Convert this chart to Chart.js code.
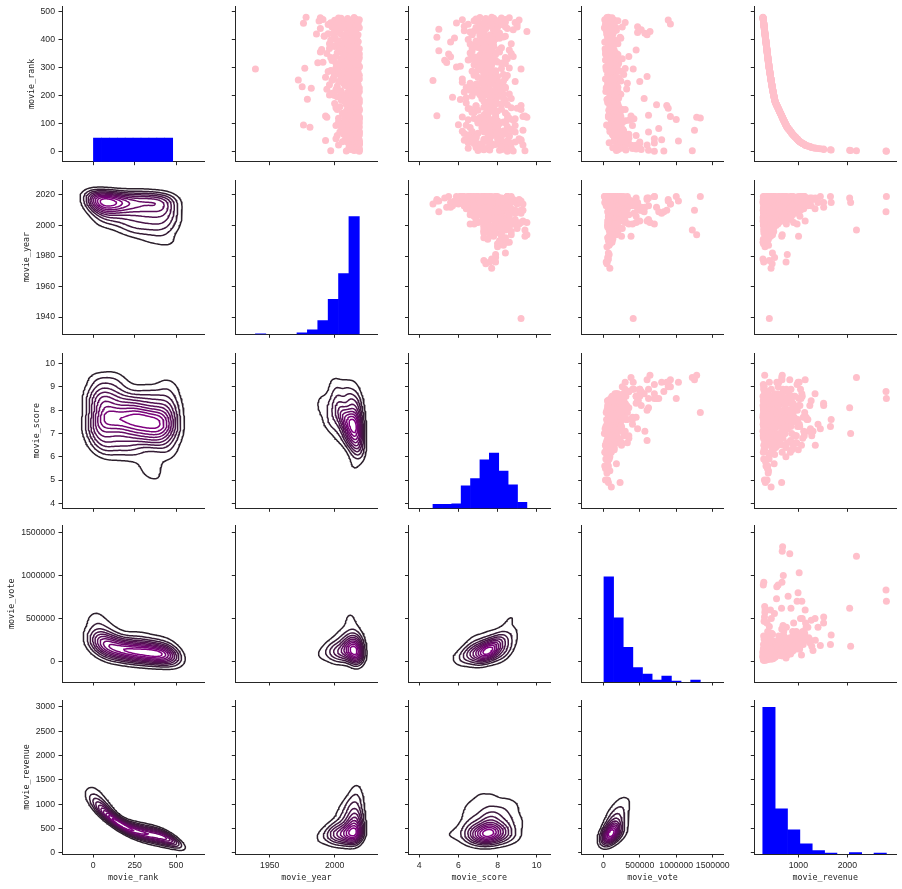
<!DOCTYPE html>
<html>
<head>
<meta charset="utf-8">
<script src="https://cdn.jsdelivr.net/npm/chart.js@4.4.0/dist/chart.umd.min.js"></script>
<style>
  html, body { margin: 0; padding: 0; background: #fff; }
  #grid { position: relative; width: 902px; height: 889px; overflow: hidden; }
  #grid canvas { position: absolute; }
</style>
</head>
<body>
<div id="grid"></div>
<script>
// one entry per movie, same index in every array
// (first block: the movies that stand out, second block: the dense core)
const movieRank = [
  1,2,3,4,5,6,7,8,9,10,
  11,12,13,14,15,16,17,18,19,20,
  21,22,23,24,25,26,27,28,29,30,
  31,32,33,34,35,36,38,40,42,44,
  46,48,51,53,55,58,60,62,65,67,
  70,72,74,76,78,80,83,85,87,89,
  91,93,95,96,98,100,102,104,106,108,
  110,112,115,117,118,120,122,123,125,127,
  128,130,132,135,137,140,142,145,148,150,
  152,155,158,160,163,165,167,170,172,175,
  178,181,184,187,189,190,192,194,196,199,
  201,203,205,208,210,212,215,217,219,222,
  224,226,229,232,234,236,239,241,244,246,
  248,250,252,254,256,258,261,263,265,268,
  270,273,275,277,280,282,285,287,290,292,
  295,297,298,300,303,305,308,310,313,315,
  317,318,320,323,325,327,330,332,335,337,
  340,342,345,347,350,352,355,357,360,362,
  363,365,367,370,372,375,377,380,382,385,
  387,390,391,393,395,398,400,403,405,408,
  410,412,415,417,419,420,423,425,427,429,
  431,433,435,437,440,442,444,445,446,448,
  450,452,454,456,458,459,461,463,465,467,
  469,470,472,474,476,478,480,
  37,39,41,43,45,47,50,52,54,57,
  59,61,64,66,69,71,73,77,79,82,
  84,86,88,90,94,97,99,103,105,109,
  111,114,116,119,121,124,126,131,134,138,
  141,144,147,151,154,157,161,164,168,171,
  174,177,180,183,186,191,195,198,202,206,
  209,213,216,220,223,227,230,233,237,240,
  243,247,251,255,259,262,266,269,272,276,
  279,283,286,289,293,296,299,302,306,309,
  312,316,319,322,326,329,333,336,339,343,
  346,349,353,356,359,364,368,371,374,378,
  381,384,388,392,396,399,402,406,409,413,
  416,418,421,424,428,432,436,439,443,447,
  449,451,455,457,460,462,466,468,471,475,
  477,479,200,228,260,288,311,338,366,397
];
const movieYear = [
  2019,2009,1997,2015,2018,2015,2019,2012,2015,2019,
  2015,2018,2011,2017,2018,2013,2017,2018,2017,2013,
  2015,2016,2018,2003,2019,2019,2011,2012,2014,2012,
  2019,2019,2019,2010,2006,2016,2016,1993,2008,2011,
  2001,2013,2010,2012,2017,2002,2018,2007,2016,2019,
  2004,2019,2005,2010,2014,2018,2009,2013,1981,2017,
  2016,2001,1976,2014,2012,2015,2019,2007,2003,2018,
  2013,2017,2019,2008,2015,2019,2016,1994,2014,1993,
  2016,2013,2011,2018,2006,2012,2017,2009,2015,2002,
  2019,2016,2014,2004,2018,2010,2012,2017,2000,2019,
  2008,2011,2005,1979,2016,2009,2015,2013,2002,2018,
  2006,2012,2017,1998,2014,2010,2019,2004,2016,2001,
  2013,1982,2011,1975,2015,2008,1996,2018,2007,2012,
  2017,2003,2014,2014,1972,2010,2016,1999,2009,2017,
  2005,2019,2012,2000,2015,2006,2018,2011,1997,2013,
  1939,2008,1977,2016,2002,2019,2010,2014,2004,2017,
  1987,2012,2009,2018,1998,2015,2011,2005,2019,2013,
  2001,2016,2007,2014,1994,2018,2010,2003,2016,2012,
  2006,1990,2019,2008,2015,2000,2011,2017,2004,1996,
  2013,2009,2015,2018,2002,2012,2016,1999,2010,2017,
  2007,1992,2014,2018,2005,1986,2012,2015,2001,2002,
  2011,2016,2010,2009,1989,2019,2004,1998,2011,2013,
  2017,2006,1995,2014,1976,2015,2003,2018,2008,2012,
  2000,2017,1991,2016,2005,1989,1978,
  2017,2014,2019,2011,2016,2013,2018,2015,2012,2010,
  2019,2016,2009,2014,2018,2012,2017,2007,2015,2013,
  2016,2011,2019,2005,2018,2014,2010,2017,2012,2008,
  2015,2018,2013,2003,2016,2019,2011,2014,2007,2017,
  2012,2016,2019,2010,2014,2001,2018,2015,2009,2013,
  2017,2011,2015,2006,2019,2012,2008,2016,1996,1999,
  2018,2013,2005,2016,1994,2019,2012,2002,2015,2009,
  2014,2017,2004,1998,2019,2007,1993,2013,2000,2018,
  2010,2015,1995,2003,2017,2008,2001,2019,2006,2011,
  2016,2001,1991,2009,2018,2005,1999,1997,2012,2007,
  2014,2019,2002,1989,2017,2008,1996,2004,2016,1998,
  2011,2015,2006,2018,2003,1997,2009,2016,2000,1992,
  2007,2017,1995,1999,2010,2016,2004,2012,2008,2000,
  2011,2005,2018,2009,1997,2001,1988,2006,2019,2010,
  2003,2015,2000,2017,2009,1998,2018,2012,2016,2013
];
const movieScore = [
  8.5,8.8,9.4,7.0,8.1,7.6,7.3,8.2,8.3,7.2,
  7.4,6.5,8.7,7.1,6.9,8.4,7.2,8.2,7.1,7.6,
  7.6,7.7,7.7,9.3,7.9,6.9,7.1,7.7,6.8,8.6,
  8.7,6.5,8.5,8.9,8.2,7.3,9.2,8.2,9.2,7.3,
  9.1,6.9,6.6,8.1,6.9,8.6,7.9,8.1,6.3,7.7,
  8.9,6.7,8.3,9.3,7.4,8.0,8.5,7.2,7.9,7.5,
  7.8,8.9,7.6,6.0,7.6,8.1,7.0,7.7,8.3,7.3,
  8.0,8.8,8.5,8.9,6.8,7.9,7.1,9.5,9.3,9.4,
  4.9,8.5,7.5,7.9,7.4,6.8,6.7,8.0,7.0,9.2,
  6.6,9.0,7.3,7.8,6.9,9.2,8.5,8.2,8.0,7.4,
  7.7,7.8,8.4,7.9,7.2,8.7,6.4,5.7,8.0,6.7,
  7.9,7.1,8.3,7.4,7.6,6.9,7.3,8.1,6.6,6.8,
  8.2,8.4,6.4,7.4,7.9,7.4,8.2,6.9,6.6,7.5,
  6.2,8.9,8.0,4.7,7.7,7.8,7.2,8.4,7.0,8.0,
  7.6,6.8,8.3,7.3,7.7,6.8,7.9,6.7,7.7,7.0,
  9.2,8.2,7.3,7.5,7.0,6.1,7.6,6.8,7.4,8.4,
  8.3,5.4,8.0,7.1,7.9,6.5,6.6,8.5,7.6,6.9,
  8.8,7.3,7.1,7.9,8.7,6.6,7.4,7.2,5.0,7.7,
  8.6,8.1,7.2,6.7,7.0,7.8,7.3,7.5,6.9,8.7,
  7.4,7.1,5.6,7.8,6.9,7.2,6.5,7.9,8.1,4.9,
  7.4,8.4,7.1,6.7,7.9,8.0,7.1,7.2,6.6,9.5,
  6.8,7.8,8.8,5.0,8.5,7.0,8.0,9.0,8.4,6.3,
  7.6,7.3,8.2,9.0,7.9,5.9,8.9,7.4,7.0,6.8,
  8.1,9.1,8.4,6.9,7.8,8.6,7.7,
  7.4,8.5,6.3,7.6,8.0,6.6,7.5,6.9,8.6,7.7,
  6.5,8.3,7.5,7.0,8.4,7.3,6.2,7.9,8.7,7.4,
  7.6,6.6,8.0,8.5,6.4,7.5,7.3,8.4,7.0,7.9,
  7.8,6.5,7.6,8.6,7.4,6.2,7.9,7.3,7.5,8.4,
  6.7,7.7,7.5,8.2,6.5,8.7,7.6,6.9,7.8,7.4,
  6.4,7.9,7.3,7.6,6.1,8.3,7.2,7.7,7.4,8.6,
  7.5,6.3,7.9,7.1,7.6,6.6,8.4,8.0,7.3,7.0,
  7.7,7.2,8.3,7.4,6.2,7.8,7.8,7.6,8.5,6.9,
  7.3,7.6,7.9,7.9,7.1,7.5,8.6,5.9,7.4,7.7,
  7.2,8.2,7.5,6.9,5.3,7.7,7.3,8.4,5.6,7.6,
  7.5,5.5,7.9,8.1,6.7,7.6,7.3,8.2,6.8,7.8,
  7.4,6.6,7.7,7.1,7.5,7.7,7.6,5.8,8.3,7.3,
  7.6,6.7,7.3,8.1,7.2,6.3,7.8,7.4,6.9,7.5,
  7.2,7.7,6.5,7.5,7.3,8.4,8.0,7.6,6.2,7.4,
  8.2,7.1,7.6,7.3,7.7,7.8,7.5,6.8,7.4,7.6
];
const movieVote = [
  700000,830000,1220000,180000,620000,310000,200000,520000,450000,190000,
  400000,250000,500000,130000,180000,480000,250000,220000,280000,400000,
  250000,400000,450000,600000,330000,280000,300000,200000,350000,500000,
  700000,80000,250000,500000,300000,150000,1030000,250000,800000,250000,
  700000,350000,250000,300000,150000,450000,210000,350000,120000,160000,
  620000,90000,280000,1250000,170000,260000,760000,130000,80000,140000,
  230000,400000,45000,90000,180000,220000,110000,190000,260000,150000,
  300000,350000,1000000,420000,100000,1330000,140000,1280000,920000,380000,
  70000,620000,200000,170000,130000,160000,120000,240000,75000,300000,
  130000,890000,95000,210000,110000,870000,730000,190000,150000,60000,
  170000,180000,150000,60000,110000,560000,80000,180000,120000,95000,
  140000,210000,240000,180000,130000,160000,35000,200000,90000,110000,
  320000,70000,150000,50000,180000,100000,130000,65000,330000,120000,
  60000,500000,240000,110000,90000,150000,190000,210000,130000,600000,
  80000,100000,280000,90000,160000,120000,140000,230000,110000,40000,
  410000,300000,60000,120000,150000,50000,190000,140000,100000,210000,
  80000,90000,170000,80000,150000,30000,210000,260000,90000,110000,
  350000,100000,120000,200000,180000,70000,130000,90000,30000,150000,
  450000,70000,25000,120000,85000,110000,140000,95000,80000,200000,
  110000,100000,20000,130000,70000,160000,85000,90000,240000,230000,
  110000,60000,120000,600000,130000,50000,570000,470000,140000,640000,
  90000,180000,520000,60000,100000,15000,170000,260000,470000,70000,
  100000,80000,120000,920000,40000,80000,300000,90000,140000,200000,
  150000,890000,90000,60000,110000,120000,70000,
  210000,280000,150000,330000,260000,190000,240000,170000,310000,280000,
  130000,300000,220000,160000,240000,200000,110000,250000,270000,180000,
  190000,150000,230000,200000,90000,170000,210000,260000,120000,230000,
  180000,110000,200000,190000,150000,70000,240000,130000,160000,210000,
  140000,170000,120000,250000,100000,160000,130000,90000,200000,150000,
  80000,190000,120000,140000,50000,210000,130000,160000,110000,150000,
  90000,100000,130000,110000,150000,40000,200000,120000,140000,90000,
  160000,90000,140000,120000,30000,130000,80000,170000,110000,60000,
  120000,100000,90000,130000,70000,110000,190000,35000,100000,150000,
  80000,100000,130000,90000,50000,120000,100000,140000,70000,110000,
  120000,30000,90000,110000,60000,100000,120000,80000,70000,90000,
  100000,70000,90000,50000,80000,110000,120000,60000,70000,90000,
  80000,50000,100000,60000,90000,40000,70000,110000,80000,60000,
  90000,70000,30000,100000,80000,60000,90000,70000,20000,100000,
  60000,50000,160000,130000,150000,100000,80000,120000,90000,100000
];
const movieRevenue = [
  2798,2790,2187,2068,2048,1671,1656,1518,1516,1450,
  1402,1347,1342,1300,1275,1262,1248,1235,1215,1195,
  1175,1160,1148,1140,1130,1122,1110,1100,1090,1080,
  1072,1065,1055,1045,1033,1028,1018,1005,995,985,
  975,960,945,935,920,905,895,885,870,862,
  850,842,834,826,818,805,792,780,775,768,
  762,757,750,747,741,735,730,725,719,713,
  707,702,694,688,686,680,675,672,667,662,
  660,658,652,641,636,628,622,615,607,602,
  596,588,580,575,567,561,556,548,543,535,
  527,523,520,516,514,513,510,507,505,501,
  499,497,495,491,489,487,484,482,480,476,
  474,472,469,466,464,462,460,458,455,453,
  451,449,447,445,444,442,439,437,435,432,
  431,429,427,425,422,421,418,416,414,412,
  409,408,407,405,403,401,399,398,395,394,
  392,391,390,388,386,384,382,381,379,377,
  375,374,372,370,368,367,365,364,362,361,
  360,358,357,355,354,352,350,348,347,345,
  343,341,341,339,337,335,334,332,330,328,
  327,326,324,322,321,320,318,316,315,314,
  312,311,310,308,307,305,304,303,302,301,
  300,299,297,296,294,294,293,291,290,289,
  287,286,285,283,282,280,278,
  1022,1012,1000,990,980,968,950,940,930,915,
  900,890,875,866,855,846,838,822,810,797,
  785,777,771,765,753,744,738,727,722,710,
  704,696,691,683,678,670,665,652,644,633,
  625,617,609,599,591,583,572,564,554,546,
  538,530,524,521,517,512,506,502,498,493,
  490,486,483,479,475,471,468,465,461,459,
  456,452,448,444,441,438,435,432,430,426,
  423,420,417,415,411,409,406,403,400,398,
  396,393,390,388,385,383,380,378,376,373,
  371,369,366,364,362,359,356,354,352,349,
  347,345,342,339,337,335,333,330,327,325,
  323,321,319,317,315,312,309,307,304,302,
  301,299,296,295,293,292,289,288,286,283,
  281,279,500,470,440,415,397,376,358,336
];

// diagonal histograms: 10 bins between the range ends, counts
const rankCounts = [48,48,48,48,48,48,48,48,48,48];
const yearCounts = [1,0,0,0,3,9,28,72,125,242];
const scoreCounts = [8,8,9,46,61,99,113,76,48,12];
const voteCounts = [213,130,70,29,16,4,12,2,0,4];
const revenueCounts = [302,93,50,21,7,2,0,3,0,2];
const rankBinRange = [1, 480];
const yearBinRange = [1939, 2019];
const scoreBinRange = [4.7, 9.5];
const voteBinRange = [9000, 1330000];
const revenueBinRange = [275, 2798];

// tick values
const rankTicksX = [0, 250, 500];
const rankTicksY = [0, 100, 200, 300, 400, 500];
const yearTicksX = [1950, 2000];
const yearTicksY = [1940, 1960, 1980, 2000, 2020];
const scoreTicksX = [4, 6, 8, 10];
const scoreTicksY = [4, 5, 6, 7, 8, 9, 10];
const voteTicks = [0, 500000, 1000000, 1500000];
const revenueTicksX = [1000, 2000];
const revenueTicksY = [0, 500, 1000, 1500, 2000, 2500, 3000];

const varNames = ['movie_rank', 'movie_year', 'movie_score', 'movie_vote', 'movie_revenue'];

// axis limits: columns (x) and rows (y)
const colLimits = [[-189, 671], [1923.5, 2033], [3.45, 10.68], [-296000, 1645000], [102, 2994]];
const rowLimits = [[-36, 520], [1928.7, 2029.8], [3.79, 10.44], [-233000, 1577000], [-27, 3144]];
const diagCountMax = 317;

// panel rectangles on the page
const colLeft = [62, 235.3, 408.5, 581.7, 754.3];
const colRight = [204.3, 377.5, 550, 723.3, 896];
const rowTop = [6, 180, 353.3, 525.5, 700];
const rowBottom = [161.7, 334.3, 508.3, 682, 854];

const AXIS = '#262626';
const PINK = '#ffc0cb';
const BLUE = '#0000ff';
const DARK = [44, 32, 44];
const PURPLE = [128, 0, 128];
const TICK_FONT = {family: "'Liberation Sans', Arial, sans-serif", size: 8.7};
const TITLE_FONT = {family: "'DejaVu Sans Mono', monospace", size: 8.4};
const GRID = 100;
const N_LEVELS = 10;

const series = [movieRank, movieYear, movieScore, movieVote, movieRevenue];
const histCounts = [rankCounts, yearCounts, scoreCounts, voteCounts, revenueCounts];
const histRanges = [rankBinRange, yearBinRange, scoreBinRange, voteBinRange, revenueBinRange];
const xTicks = [rankTicksX, yearTicksX, scoreTicksX, voteTicks, revenueTicksX];
const yTicks = [rankTicksY, yearTicksY, scoreTicksY, voteTicks, revenueTicksY];

const measureCtx = document.createElement('canvas').getContext('2d');
function labelWidth(vals) {
  measureCtx.font = TICK_FONT.size + 'px ' + TICK_FONT.family;
  return Math.max(...vals.map(v => measureCtx.measureText(String(v)).width));
}

function histBars(counts, range) {
  const w = (range[1] - range[0]) / counts.length;
  return counts.map((c, i) => ({x: range[0] + w * (i + 0.5), y: c === 0 ? null : c}));
}

// gaussian kde on a grid (scott bandwidth, full covariance), like scipy
function support(v, bw) {
  const lo = Math.min(...v) - 3 * bw, hi = Math.max(...v) + 3 * bw;
  const out = [];
  for (let i = 0; i < GRID; i++) out.push(lo + (hi - lo) * i / (GRID - 1));
  return out;
}

function kde2d(xv, yv) {
  const n = xv.length;
  let mx = 0, my = 0;
  for (let i = 0; i < n; i++) { mx += xv[i]; my += yv[i]; }
  mx /= n; my /= n;
  let sxx = 0, syy = 0, sxy = 0;
  for (let i = 0; i < n; i++) {
    const dx = xv[i] - mx, dy = yv[i] - my;
    sxx += dx * dx; syy += dy * dy; sxy += dx * dy;
  }
  sxx /= n - 1; syy /= n - 1; sxy /= n - 1;
  const f2 = Math.pow(n, -1 / 3);
  const cxx = sxx * f2, cyy = syy * f2, cxy = sxy * f2;
  const det = cxx * cyy - cxy * cxy;
  const ixx = cyy / det, iyy = cxx / det, ixy = -cxy / det;
  const norm = 1 / (2 * Math.PI * Math.sqrt(det) * n);
  const gx = support(xv, Math.sqrt(cxx));
  const gy = support(yv, Math.sqrt(cyy));
  const z = [];
  let zmax = 0;
  for (let j = 0; j < GRID; j++) {
    const row = new Float64Array(GRID);
    for (let i = 0; i < GRID; i++) {
      let s = 0;
      for (let k = 0; k < n; k++) {
        const dx = gx[i] - xv[k], dy = gy[j] - yv[k];
        s += Math.exp(-0.5 * (ixx * dx * dx + 2 * ixy * dx * dy + iyy * dy * dy));
      }
      row[i] = s * norm;
      if (row[i] > zmax) zmax = row[i];
    }
    z.push(row);
  }
  return {gx, gy, z, zmax};
}

// marching squares, then join segments into polylines
function isoLines(g, level) {
  const {gx, gy, z} = g;
  const pts = new Map();
  const segs = [];
  function cross(t, i, j) {
    const k = t + i + '_' + j;
    if (!pts.has(k)) {
      const z0 = z[j][i];
      const z1 = t === 'h' ? z[j][i + 1] : z[j + 1][i];
      const a = (level - z0) / (z1 - z0);
      pts.set(k, t === 'h'
        ? {x: gx[i] + a * (gx[i + 1] - gx[i]), y: gy[j]}
        : {x: gx[i], y: gy[j] + a * (gy[j + 1] - gy[j])});
    }
    return k;
  }
  for (let j = 0; j < GRID - 1; j++) {
    for (let i = 0; i < GRID - 1; i++) {
      const a = z[j][i] >= level, b = z[j][i + 1] >= level;
      const c = z[j + 1][i + 1] >= level, d = z[j + 1][i] >= level;
      const code = (a ? 1 : 0) | (b ? 2 : 0) | (c ? 4 : 0) | (d ? 8 : 0);
      if (code === 0 || code === 15) continue;
      const B = a !== b ? cross('h', i, j) : null;
      const R = b !== c ? cross('v', i + 1, j) : null;
      const T = c !== d ? cross('h', i, j + 1) : null;
      const L = d !== a ? cross('v', i, j) : null;
      if (code === 5 || code === 10) {
        const centre = (z[j][i] + z[j][i + 1] + z[j + 1][i + 1] + z[j + 1][i]) / 4 >= level;
        if ((code === 5) === centre) { segs.push([B, R], [T, L]); }
        else { segs.push([L, B], [R, T]); }
      } else {
        const e = [B, R, T, L].filter(k => k !== null);
        segs.push([e[0], e[1]]);
      }
    }
  }
  const adj = new Map();
  segs.forEach((s, idx) => s.forEach(k => {
    if (!adj.has(k)) adj.set(k, []);
    adj.get(k).push(idx);
  }));
  const used = new Array(segs.length).fill(false);
  const lines = [];
  for (let s = 0; s < segs.length; s++) {
    if (used[s]) continue;
    used[s] = true;
    const line = [segs[s][0], segs[s][1]];
    for (const atEnd of [true, false]) {
      while (true) {
        const k = atEnd ? line[line.length - 1] : line[0];
        const next = adj.get(k).find(i => !used[i]);
        if (next === undefined) break;
        used[next] = true;
        const other = segs[next][0] === k ? segs[next][1] : segs[next][0];
        if (atEnd) line.push(other); else line.unshift(other);
      }
    }
    lines.push(line.map(k => pts.get(k)));
  }
  return lines;
}

function levelColor(t) {
  const c = DARK.map((v, i) => Math.round(v + (PURPLE[i] - v) * t));
  return 'rgb(' + c.join(',') + ')';
}

function contourDatasets(xv, yv) {
  const g = kde2d(xv, yv);
  const sets = [];
  for (let k = 1; k <= N_LEVELS; k++) {
    const level = g.zmax * k / (N_LEVELS + 1);
    const color = levelColor((k - 1) / (N_LEVELS - 1));
    isoLines(g, level).forEach(line => {
      sets.push({
        data: line, showLine: true, pointRadius: 0, pointHoverRadius: 0,
        borderColor: color, borderWidth: 1.5, fill: false, tension: 0,
        borderCapStyle: 'round', borderJoinStyle: 'round'
      });
    });
  }
  return sets;
}

function scaleOpts(o) {
  return {
    type: 'linear',
    position: o.horizontal ? 'bottom' : 'left',
    min: o.limits[0],
    max: o.limits[1],
    offset: false,
    border: {display: true, color: AXIS, width: 1},
    grid: {display: true, drawOnChartArea: false, drawTicks: true, tickLength: 3.5,
      tickColor: AXIS, tickWidth: 1, offset: false},
    ticks: {
      display: true, color: AXIS, font: TICK_FONT,
      padding: o.horizontal ? 2.5 : 3.5,
      autoSkip: false, maxRotation: 0, minRotation: 0,
      callback: (v) => o.labels ? String(v) : ''
    },
    title: {display: !!o.title, text: o.title || '', color: AXIS, font: TITLE_FONT, padding: o.titlePad},
    afterBuildTicks: (s) => { s.ticks = o.ticks.map(v => ({value: v})); },
    afterFit: (s) => { if (o.horizontal) s.height = o.size; else s.width = o.size; }
  };
}

const gridEl = document.getElementById('grid');
const titleHalf = TITLE_FONT.size * 1.2 / 2;

for (let r = 0; r < 5; r++) {
  for (let c = 0; c < 5; c++) {
    const L = colLeft[c], R = colRight[c], T = rowTop[r], B = rowBottom[r];
    const cl = Math.floor(L) - 72, ct = Math.floor(T) - 10;
    const cw = Math.ceil(R) + 28 - cl, ch = Math.ceil(B) + 44 - ct;
    const yW = L - cl, xH = ct + ch - B;

    const canvas = document.createElement('canvas');
    canvas.width = cw;
    canvas.height = ch;
    canvas.style.left = cl + 'px';
    canvas.style.top = ct + 'px';
    gridEl.appendChild(canvas);

    let datasets;
    if (r === c) {
      datasets = [{
        type: 'bar', data: histBars(histCounts[c], histRanges[c]),
        backgroundColor: BLUE, borderWidth: 0, barPercentage: 1, categoryPercentage: 1,
        grouped: false, yAxisID: 'yc'
      }];
    } else if (r < c) {
      datasets = [{
        data: series[c].map((v, i) => ({x: v, y: series[r][i]})),
        pointRadius: 3.5, pointHoverRadius: 3.5, pointBorderWidth: 0,
        backgroundColor: PINK, pointBackgroundColor: PINK, borderColor: PINK
      }];
    } else {
      datasets = contourDatasets(series[c], series[r]);
    }

    const lw = labelWidth(yTicks[r]);
    const scales = {
      x: scaleOpts({
        horizontal: true, limits: colLimits[c], ticks: xTicks[c], labels: r === 4,
        title: r === 4 ? varNames[c] : '', size: xH,
        titlePad: {top: 0, bottom: xH - 23.5 - titleHalf}
      }),
      y: scaleOpts({
        horizontal: false, limits: rowLimits[r], ticks: yTicks[r], labels: c === 0,
        title: c === 0 ? varNames[r] : '', size: yW,
        titlePad: {top: Math.max(0, yW - 16 - lw - titleHalf), bottom: 0}
      })
    };
    if (r === c) {
      scales.yc = {type: 'linear', display: false, min: 0, max: diagCountMax};
    }

    new Chart(canvas, {
      type: 'scatter',
      data: {datasets},
      options: {
        responsive: false,
        animation: false,
        devicePixelRatio: 1,
        events: [],
        layout: {autoPadding: false, padding: {left: 0, top: T - ct, right: cl + cw - R, bottom: 0}},
        plugins: {legend: {display: false}, tooltip: {enabled: false}, title: {display: false}},
        scales
      }
    });
  }
}
</script>
</body>
</html>
